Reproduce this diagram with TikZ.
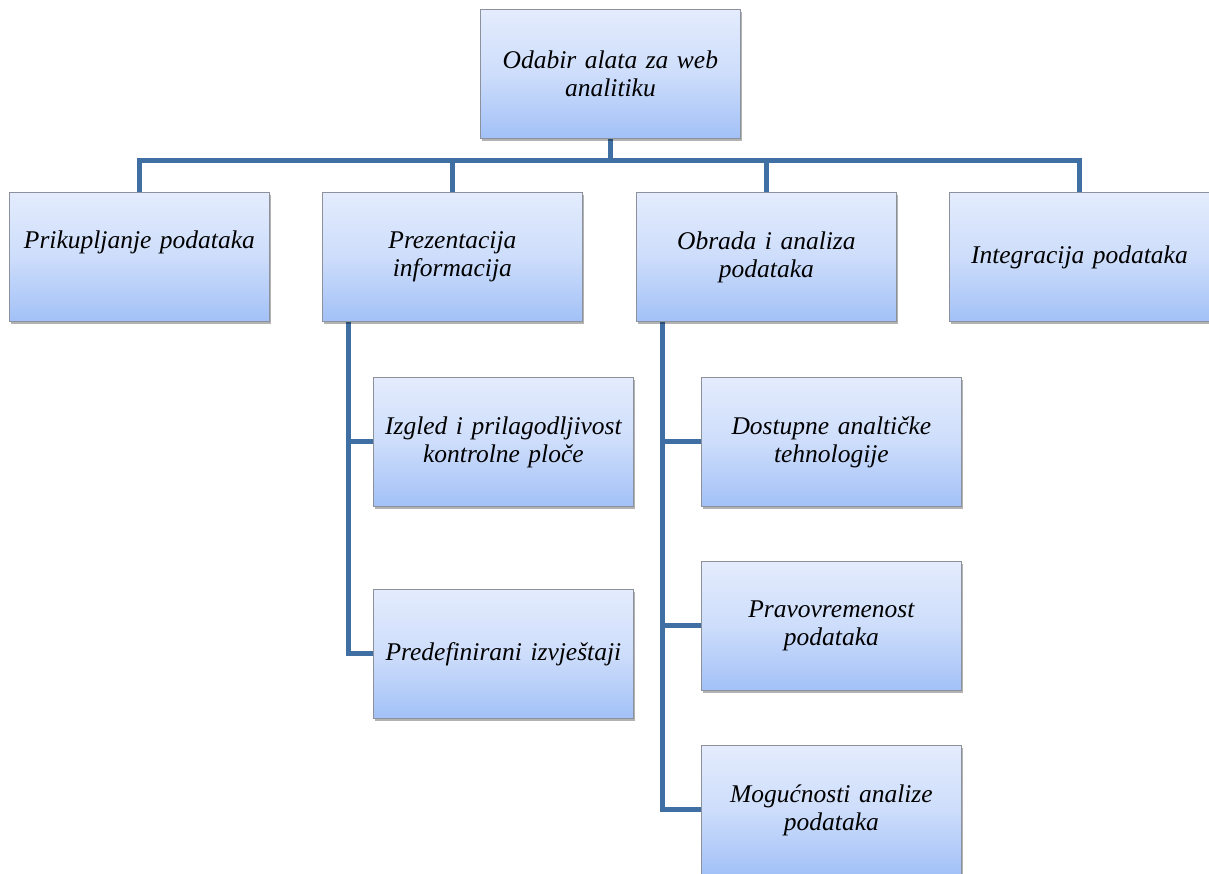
\documentclass[tikz,border=0pt]{standalone}
\usepackage{fontspec}
\setmainfont{Liberation Serif}
\usetikzlibrary{shadows,backgrounds}
\definecolor{linec}{RGB}{64,112,163}
\definecolor{topc}{RGB}{228,236,253}
\definecolor{midc}{RGB}{205,221,251}
\definecolor{botc}{RGB}{162,193,247}
\definecolor{edgec}{RGB}{140,145,155}
\tikzset{
  box/.style={rectangle, anchor=north west, minimum width=260pt, minimum height=129pt,
    text width=256pt, align=center, inner sep=0pt, draw=edgec, line width=0.8pt,
    top color=topc, bottom color=botc, middle color=midc,
    drop shadow={shadow xshift=2pt, shadow yshift=-3pt, fill=black, opacity=0.3},
    font=\fontsize{25.5}{28}\selectfont\itshape},
  conn/.style={draw=linec, line width=5pt}
}
\begin{document}
\begin{tikzpicture}[x=1pt,y=-1pt]
\useasboundingbox (0,0) rectangle (1209,873);
\clip (0,0) rectangle (1209,873);
\node[box] (top) at (480,9) {Odabir alata za web\\analitiku};
\node[box] (l1) at (9,192) {\raisebox{34pt}{Prikupljanje podataka}};
\node[box] (l2) at (322,192) {Prezentacija\\informacija};
\node[box] (l3) at (636,192) {Obrada i analiza\\podataka};
\node[box] (l4) at (949,192) {Integracija podataka};
\node[box] (c21) at (373,377) {Izgled i prilagodljivost\\kontrolne ploče};
\node[box] (c22) at (373,589) {Predefinirani izvještaji};
\node[box] (c31) at (701,377) {Dostupne analtičke\\tehnologije};
\node[box] (c32) at (701,561) {Pravovremenost\\podataka};
\node[box] (c33) at (701,745) {Mogućnosti analize\\podataka};
\coordinate (bus) at (609,160);
\coordinate (v2) at (348,0);
\coordinate (v3) at (662,0);
\begin{pgfonlayer}{background}
\draw[conn] (top.south) -- (top.south |- bus);
\draw[conn] (l1.north) -- (l1.north |- bus) -- (l4.north |- bus) -- (l4.north);
\draw[conn] (l2.north) -- (l2.north |- bus);
\draw[conn] (l3.north) -- (l3.north |- bus);
\draw[conn] (v2 |- l2.south) |- (c22.west);
\draw[conn] (v2 |- c21.west) -- (c21.west);
\draw[conn] (v3 |- l3.south) |- (c33.west);
\draw[conn] (v3 |- c31.west) -- (c31.west);
\draw[conn] (v3 |- c32.west) -- (c32.west);
\end{pgfonlayer}
\end{tikzpicture}
\end{document}
